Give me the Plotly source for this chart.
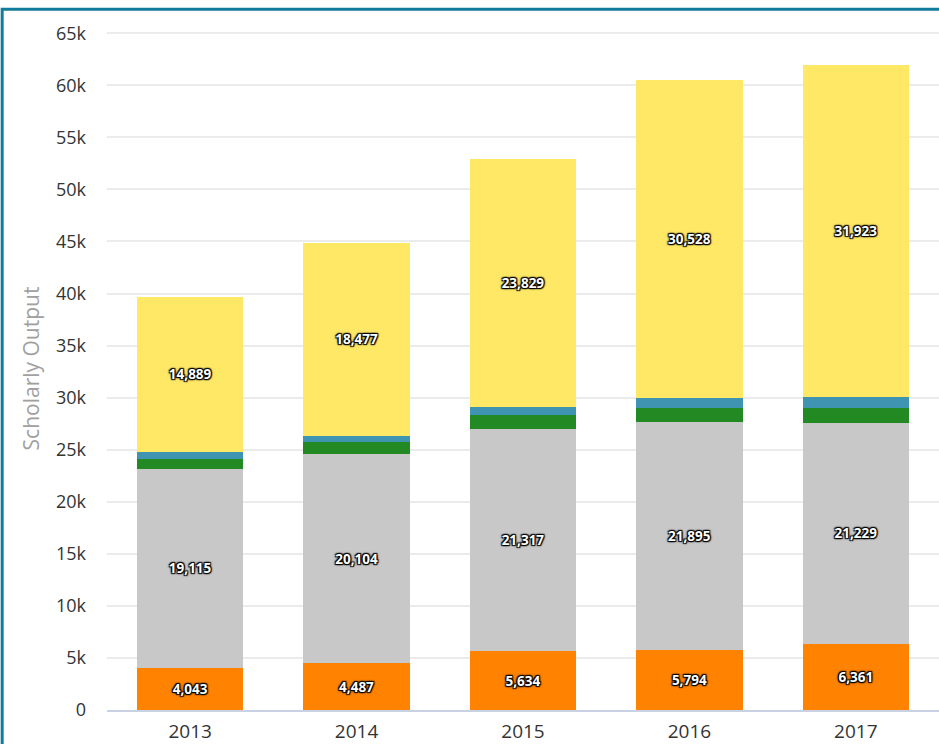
import plotly.graph_objects as go

# Scholarly output per year, split by category (stacked bottom to top)
years = ["2013", "2014", "2015", "2016", "2017"]
orange_vals = [4043, 4487, 5634, 5794, 6361]
grey_vals = [19115, 20104, 21317, 21895, 21229]
green_vals = [950, 1110, 1360, 1270, 1380]
blue_vals = [700, 660, 820, 1000, 1080]
yellow_vals = [14889, 18477, 23829, 30528, 31923]

y_ticks = [0, 5000, 10000, 15000, 20000, 25000, 30000, 35000, 40000, 45000, 50000, 55000, 60000, 65000]
y_tick_text = ["0", "5k", "10k", "15k", "20k", "25k", "30k", "35k", "40k", "45k", "50k", "55k", "60k", "65k"]

outline = "1px 1px 1px #000, -1px -1px 1px #000, 1px -1px 1px #000, -1px 1px 1px #000, 0px 0px 3px #000"

series = [
    ("orange", orange_vals, "#FF8200", True),
    ("grey", grey_vals, "#C8C8C8", True),
    ("green", green_vals, "#238A23", False),
    ("blue", blue_vals, "#3F94B1", False),
    ("yellow", yellow_vals, "#FFE866", True),
]

fig = go.Figure()
for name, vals, color, labelled in series:
    fig.add_trace(go.Bar(
        name=name,
        x=years,
        y=vals,
        marker=dict(color=color, line=dict(width=0)),
        texttemplate="%{y:,}" if labelled else None,
        textposition="inside" if labelled else "none",
        insidetextanchor="middle",
        textangle=0,
        textfont=dict(family="Open Sans", size=13.5, color="white", weight="bold", shadow=outline),
        hoverinfo="x+y+name",
    ))

fig.update_layout(
    barmode="stack",
    bargap=0.36,
    width=939,
    height=744,
    margin=dict(l=107, r=0, t=27, b=34, autoexpand=False),
    paper_bgcolor="white",
    plot_bgcolor="white",
    showlegend=False,
    uniformtext=dict(mode=False),
    xaxis=dict(
        automargin=False,
        showgrid=False,
        showline=True,
        linecolor="#C9D2E2",
        linewidth=1.5,
        tickfont=dict(family="Open Sans", size=19, color="#333333"),
        ticklabelstandoff=3,
        ticks="",
    ),
    yaxis=dict(
        automargin=False,
        range=[0, 65600],
        tickvals=y_ticks,
        ticktext=y_tick_text,
        showgrid=True,
        gridcolor="#EBEBEB",
        gridwidth=1.5,
        zeroline=False,
        tickfont=dict(family="Open Sans", size=18, color="#333333"),
        ticklabelstandoff=20,
        title=dict(text="Scholarly Output", font=dict(family="Open Sans", size=21, color="#A0A0A0"), standoff=10),
    ),
    shapes=[dict(
        type="rect", xref="paper", yref="paper",
        x0=-0.126, x1=1.05, y0=-0.2, y1=1.026,
        line=dict(color="#137B9B", width=3),
        fillcolor="rgba(0,0,0,0)",
        layer="above",
    )],
)

fig.write_html("out.html")
